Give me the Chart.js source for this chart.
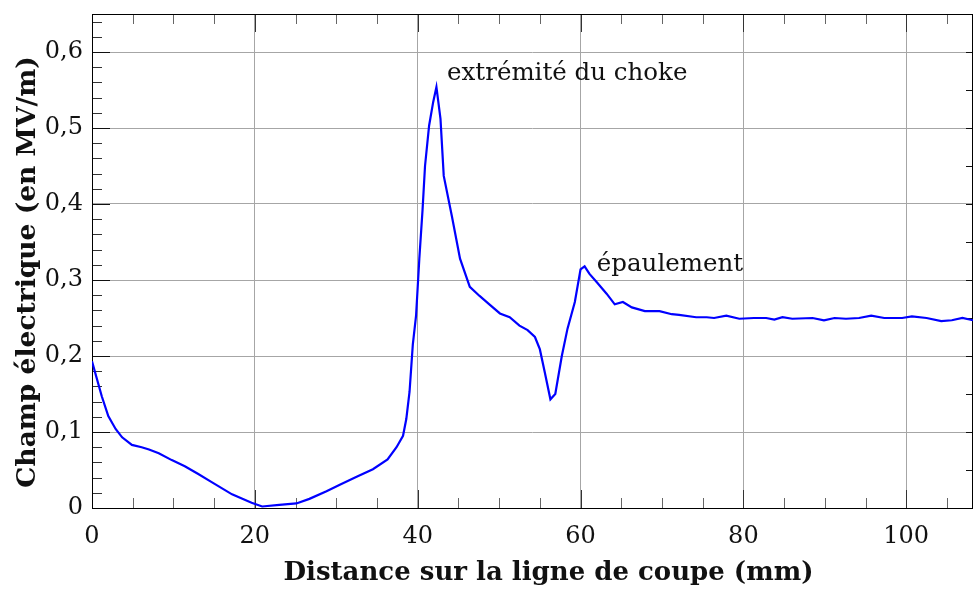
<!DOCTYPE html>
<html>
<head>
<meta charset="utf-8">
<script src="https://cdn.jsdelivr.net/npm/chart.js@4/dist/chart.umd.min.js"></script>
<style>
  html, body { margin: 0; padding: 0; background: #fff; }
</style>
</head>
<body>
<canvas id="fieldChart" width="974" height="592"></canvas>
<script>
// Distance along the cut line (mm) and electric field (MV/m)
const distance = [
    0, 1.2, 2.0, 2.9, 3.7, 4.9, 6.1, 7.0, 8.2, 9.8, 11.4, 13.0, 14.7, 17.2, 19.6, 20.9,
    23.0, 25.1, 26.7, 28.8, 30.5, 32.5, 34.5, 36.3, 37.4, 38.2, 38.6, 39.0, 39.4, 39.8,
    40.2, 40.6, 40.9, 41.4, 41.9, 42.3, 42.8, 43.2, 44.2, 45.2, 46.4, 47.6, 48.8, 50.1,
    51.3, 52.5, 53.5, 54.4, 55.0, 55.6, 56.3, 56.9, 57.7, 58.4, 59.3, 60.0, 60.5, 61.1,
    62.0, 63.2, 64.2, 65.2, 66.3, 67.9, 69.7, 71.2, 72.1, 74.2, 75.5, 76.4, 77.9, 79.5,
    81.3, 82.8, 83.8, 84.8, 86.0, 88.5, 89.9, 91.2, 92.6, 94.2, 95.7, 97.3, 99.5, 100.7,
    102.5, 104.3, 105.6, 106.9, 108.2
];
const field = [
    0.193, 0.147, 0.121, 0.104, 0.093, 0.083, 0.080, 0.077, 0.072, 0.063, 0.055, 0.045, 0.034, 0.018, 0.007, 0.002,
    0.004, 0.006, 0.012, 0.022, 0.031, 0.041, 0.051, 0.064, 0.080, 0.095, 0.117, 0.153, 0.215, 0.253,
    0.328, 0.393, 0.450, 0.503, 0.534, 0.554, 0.512, 0.437, 0.384, 0.328, 0.291, 0.279, 0.268, 0.256,
    0.251, 0.240, 0.234, 0.225, 0.209, 0.179, 0.143, 0.150, 0.200, 0.236, 0.271, 0.314, 0.318, 0.308,
    0.297, 0.282, 0.268, 0.271, 0.264, 0.259, 0.259, 0.255, 0.254, 0.251, 0.251, 0.250, 0.253, 0.249,
    0.250, 0.250, 0.248, 0.251, 0.249, 0.250, 0.247, 0.250, 0.249, 0.250, 0.253, 0.250, 0.250, 0.252,
    0.250, 0.246, 0.247, 0.250, 0.247
];

const xTicks = [0, 20, 40, 60, 80, 100];
const yTicks = [0, 0.1, 0.2, 0.3, 0.4, 0.5, 0.6];

const xTitle = 'Distance sur la ligne de coupe (mm)';
const yTitle = 'Champ électrique (en MV/m)';

// text labels placed next to the curve
const noteText = ['extrémité du choke', 'épaulement'];
const noteX = [43.6, 62.0];
const noteY = [0.572, 0.320];

const serif = '"DejaVu Serif", "Liberation Serif", serif';

// frame, inward ticks on all four sides, axis titles and the text labels
const framePlugin = {
    id: 'frame',
    beforeDatasetsDraw(chart) {
        const { ctx, chartArea: a, scales: { x, y } } = chart;
        ctx.save();
        ctx.lineWidth = 1;

        const vTick = (v, len, color) => {
            const px = Math.round(x.getPixelForValue(v)) + 0.5;
            ctx.strokeStyle = color;
            ctx.beginPath();
            ctx.moveTo(px, a.bottom); ctx.lineTo(px, a.bottom - len);
            ctx.moveTo(px, a.top); ctx.lineTo(px, a.top + len);
            ctx.stroke();
        };
        for (let v = 5; v < x.max; v += 5) {
            if (v % 20 === 0) vTick(v, 18, '#333');
            else vTick(v, 10, '#666');
        }

        for (let i = 1; i <= 32; i++) {
            const v = i * 0.02;
            const py = Math.round(y.getPixelForValue(v)) + 0.5;
            const major = i % 5 === 0;
            ctx.strokeStyle = major ? '#111' : '#333';
            ctx.beginPath();
            ctx.moveTo(a.left, py); ctx.lineTo(a.left + (major ? 18 : 10), py);
            ctx.stroke();
        }
        for (let i = 1; i <= 12; i++) {
            const py = Math.round(y.getPixelForValue(i * 0.05)) + 0.5;
            ctx.strokeStyle = '#111';
            ctx.beginPath();
            ctx.moveTo(a.right, py); ctx.lineTo(a.right - 7, py);
            ctx.stroke();
        }

        ctx.strokeStyle = '#000';
        ctx.strokeRect(a.left + 0.5, a.top + 0.5, a.right - a.left - 1, a.bottom - a.top);
        ctx.restore();
    },
    afterDatasetsDraw(chart) {
        const { ctx, chartArea: a, scales: { x, y } } = chart;
        ctx.save();
        ctx.fillStyle = '#111';
        ctx.textBaseline = 'middle';

        ctx.font = '24.5px ' + serif;
        ctx.textAlign = 'left';
        noteText.forEach((t, i) => {
            ctx.fillText(t, x.getPixelForValue(noteX[i]), y.getPixelForValue(noteY[i]));
        });

        ctx.font = 'bold 26px ' + serif;
        ctx.textAlign = 'center';
        ctx.fillText(xTitle, (a.left + a.right) / 2 + 16, chart.height - 19);

        ctx.font = 'bold 26.5px ' + serif;
        ctx.translate(28, (a.top + a.bottom) / 2 + 11);
        ctx.rotate(-Math.PI / 2);
        ctx.fillText(yTitle, 0, 0);
        ctx.restore();
    }
};

var ctx = document.getElementById('fieldChart').getContext('2d');
var fieldChart = new Chart(ctx, {
    type: 'line',
    data: {
        datasets: [{
            label: 'Champ électrique',
            data: distance.map((d, i) => ({ x: d, y: field[i] })),
            borderColor: '#0000ff',
            borderWidth: 2.2,
            pointRadius: 0,
            tension: 0,
            fill: false
        }]
    },
    options: {
        responsive: false,
        animation: false,
        devicePixelRatio: 1,
        layout: { padding: { top: 14, right: 1, left: 0, bottom: 0 } },
        plugins: {
            legend: { display: false },
            tooltip: { enabled: false }
        },
        scales: {
            x: {
                type: 'linear',
                min: 0,
                max: 108.2,
                afterFit(s) {
                    s.height = 84;
                    s.paddingLeft = 0;
                    s.paddingRight = 0;
                },
                afterBuildTicks(s) { s.ticks = xTicks.map(v => ({ value: v })); },
                grid: { color: '#a6a6a6', lineWidth: 1, drawTicks: false },
                border: { display: false },
                ticks: {
                    color: '#111',
                    font: { family: serif, size: 24 },
                    padding: 14,
                    maxRotation: 0,
                    callback: v => String(v)
                }
            },
            y: {
                min: 0,
                max: 0.65,
                afterFit(s) {
                    s.width = 92;
                    s.paddingTop = 0;
                    s.paddingBottom = 0;
                },
                afterBuildTicks(s) { s.ticks = yTicks.map(v => ({ value: v })); },
                grid: { color: '#a6a6a6', lineWidth: 1, drawTicks: false },
                border: { display: false },
                ticks: {
                    color: '#111',
                    font: { family: serif, size: 24 },
                    padding: 9,
                    callback: v => v === 0 ? '0' : v.toFixed(1).replace('.', ',')
                }
            }
        }
    },
    plugins: [framePlugin]
});
</script>
</body>
</html>
